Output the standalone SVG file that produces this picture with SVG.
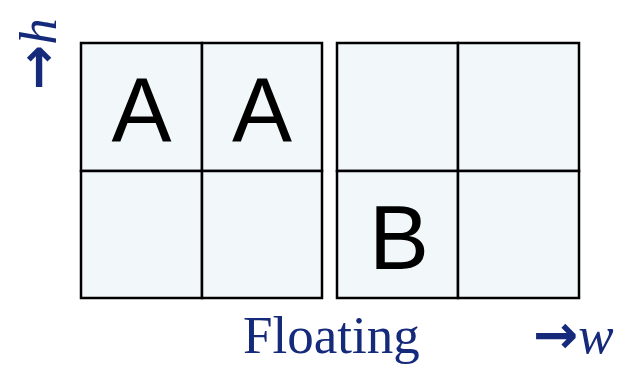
<svg xmlns="http://www.w3.org/2000/svg" width="634" height="365" viewBox="0 0 634 365">
<style>
.cell{fill:#f2f7fa;stroke:#000;stroke-width:2.5}
.lab{font-family:"Liberation Sans",Arial,sans-serif;font-size:90px;fill:#000;text-anchor:middle}
.ax{font-family:"Liberation Serif","DejaVu Serif",serif;font-size:53px;fill:#162a7c}
.arr{font-family:"DejaVu Sans",sans-serif;font-weight:bold;font-size:54px}
</style>
<rect width="634" height="365" fill="#fff"/>
<g id="left">
<rect class="cell" x="81" y="43" width="121" height="128"/>
<rect class="cell" x="202" y="43" width="120" height="128"/>
<rect class="cell" x="81" y="171" width="121" height="127"/>
<rect class="cell" x="202" y="171" width="120" height="127"/>
<text class="lab" x="141.5" y="141">A</text>
<text class="lab" x="262" y="141">A</text>
</g>
<g id="right">
<rect class="cell" x="337" y="43" width="121" height="128"/>
<rect class="cell" x="458" y="43" width="121" height="128"/>
<rect class="cell" x="337" y="171" width="121" height="127"/>
<rect class="cell" x="458" y="171" width="121" height="127"/>
<text class="lab" x="399" y="269">B</text>
</g>
<text class="ax" x="243" y="353">Floating</text>
<text class="ax" x="533" y="353"><tspan class="arr">→</tspan><tspan font-style="italic">w</tspan></text>
<text class="ax" transform="translate(56,90) rotate(-90)"><tspan class="arr">→</tspan><tspan font-style="italic">h</tspan></text>
</svg>
